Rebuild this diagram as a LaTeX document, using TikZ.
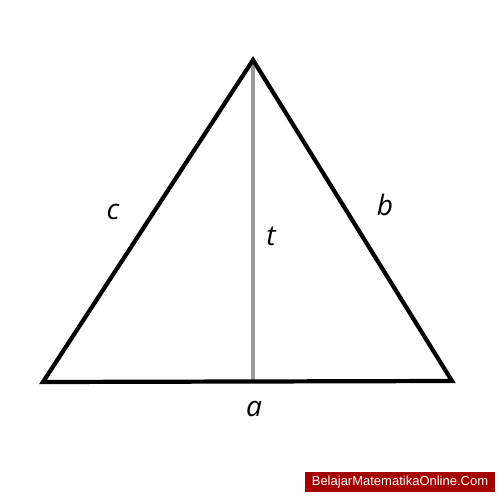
\documentclass[tikz,border=0pt]{standalone}
\usepackage{fontspec}
\setmainfont{Open Sans}
\newfontfamily\markfont{Liberation Sans}
\usetikzlibrary{calc}
\definecolor{markred}{HTML}{A50000}
\definecolor{altgray}{HTML}{9A9A9A}

\begin{document}
\begin{tikzpicture}[x=0.02cm, y=-0.02cm,
		side/.style={draw=black, line width=2.4pt, line join=miter},
		alt/.style={draw=altgray, line width=2pt},
		lbl/.style={font=\fontsize{16}{19}\selectfont\itshape, inner sep=0pt}
		]
		\useasboundingbox (0,0) rectangle (500,500);
		
		% Vertices
		\coordinate (A) at (43,382);
		\coordinate (B) at (452,381);
		\coordinate (C) at (253,60);
		\coordinate (H) at (253,381.5);
		
		% Altitude
		\draw[alt] (C) -- (H);
		
		% Triangle
		\draw[side] (A) -- (B) -- (C) -- cycle;
		
		% Side labels
		\node[lbl] (lc) at (113,212) {c};
		\node[lbl] (lb) at (385,205) {b};
		\node[lbl] (lt) at (271,236) {t};
		\node[lbl] (la) at (254,409) {a};
		
		% Watermark
		\node[fill=markred, text=white, inner sep=0pt,
		minimum height=0.4cm, text width=3.8cm, align=center,
		font=\markfont\fontsize{7.4}{9}\selectfont] (mark) at (400,482) {BelajarMatematikaOnline.Com};
		
	\end{tikzpicture}
\end{document}
